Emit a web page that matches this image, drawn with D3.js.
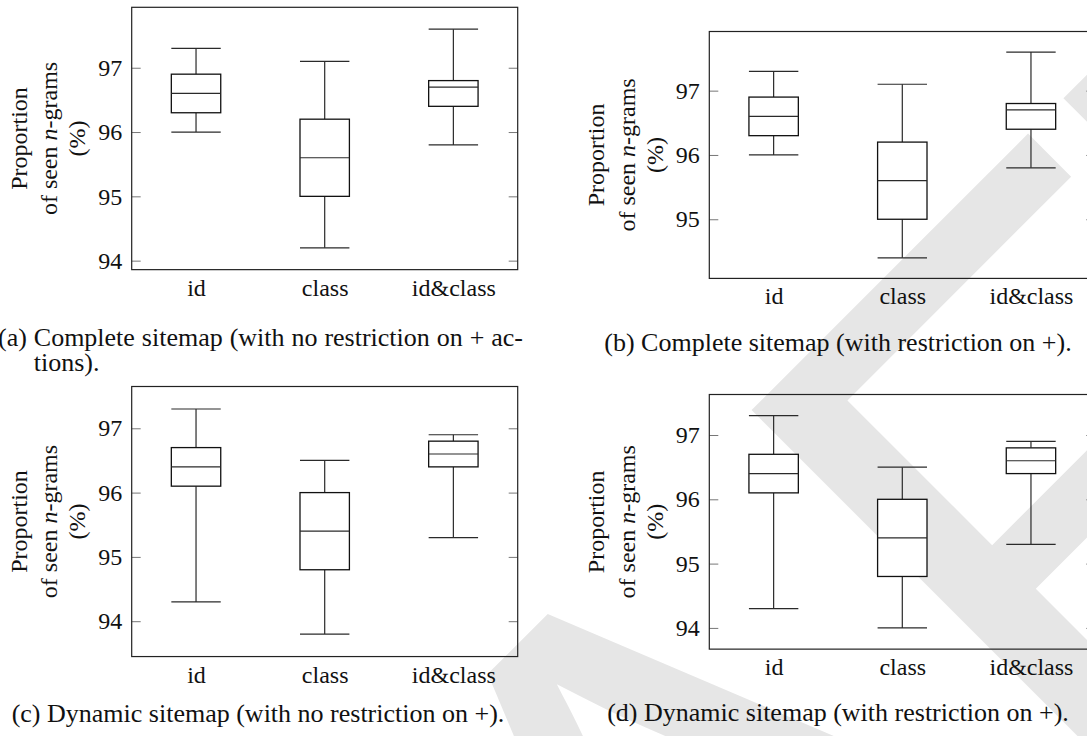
<!DOCTYPE html>
<html><head><meta charset="utf-8">
<script src="https://cdn.jsdelivr.net/npm/d3@7"></script>
<style>body{margin:0;background:#fff}svg{display:block}</style>
</head><body>
<script>
// ---------- data ----------
const categories = ["id", "class", "id&class"];
// (a) Complete sitemap, no restriction
const lowA  = [96.0, 94.2, 95.8];
const q1A   = [96.3, 95.0, 96.4];
const medA  = [96.6, 95.6, 96.7];
const q3A   = [96.9, 96.2, 96.8];
const highA = [97.3, 97.1, 97.6];
// (b) Complete sitemap, with restriction
const lowB  = [96.0, 94.4, 95.8];
const q1B   = [96.3, 95.0, 96.4];
const medB  = [96.6, 95.6, 96.7];
const q3B   = [96.9, 96.2, 96.8];
const highB = [97.3, 97.1, 97.6];
// (c) Dynamic sitemap, no restriction
const lowC  = [94.3, 93.8, 95.3];
const q1C   = [96.1, 94.8, 96.4];
const medC  = [96.4, 95.4, 96.6];
const q3C   = [96.7, 96.0, 96.8];
const highC = [97.3, 96.5, 96.9];
// (d) Dynamic sitemap, with restriction
const lowD  = [94.3, 94.0, 95.3];
const q1D   = [96.1, 94.8, 96.4];
const medD  = [96.4, 95.4, 96.6];
const q3D   = [96.7, 96.0, 96.8];
const highD = [97.3, 96.5, 96.9];

const captions = {
  a: ["(a) Complete sitemap (with no restriction on + ac-", "tions)."],
  b: ["(b) Complete sitemap (with restriction on +)."],
  c: ["(c) Dynamic sitemap (with no restriction on +)."],
  d: ["(d) Dynamic sitemap (with restriction on +)."]
};
const yLabelLines = ["Proportion", "of seen |n|-grams", "(%)"];
const watermarkText = "DRAFT";

// ---------- layout ----------
const W = 1087, H = 736;
const SERIF = "'Liberation Serif','Times New Roman',serif";
const UNIT = 64.3;        // px per 1 % on the y axis
const FRAME_W = 386;
const BOX_FRAC = 0.384;

const panels = [
  {key:"a", left:131.7, top:7.3,   low:lowA, q1:q1A, med:medA, q3:q3A, high:highA},
  {key:"b", left:709.3, top:31.5,  low:lowB, q1:q1B, med:medB, q3:q3B, high:highB},
  {key:"c", left:131.7, top:386.5, low:lowC, q1:q1C, med:medC, q3:q3C, high:highC},
  {key:"d", left:709.3, top:394.5, low:lowD, q1:q1D, med:medD, q3:q3D, high:highD}
];

const svg = d3.select("body").append("svg").attr("width", W).attr("height", H);

// watermark (behind everything)
svg.append("g")
  .attr("transform", "translate(-100,2040) rotate(-45)")
  .append("text")
  .attr("font-family", "'Liberation Sans',Arial,sans-serif")
  .attr("font-size", 800)
  .attr("fill", "#e6e6e6")
  .text(watermarkText);

panels.forEach(p => {
  const g = svg.append("g");
  const lo = d3.min(p.low), hi = d3.max(p.high);
  const pad = (hi - lo) * 0.1;
  const d0 = lo - pad, d1 = hi + pad;
  const bottom = p.top + (d1 - d0) * UNIT;
  const y = d3.scaleLinear().domain([d0, d1]).range([bottom, p.top]);
  const x = d3.scalePoint().domain(categories).range([p.left, p.left + FRAME_W]).padding(0.5);
  const bw = x.step() * BOX_FRAC;
  const ticks = d3.range(Math.ceil(d0), Math.floor(d1) + 1);

  // y axis left (inner ticks, labels)
  const ax = g.append("g").attr("transform", `translate(${p.left},0)`)
    .call(d3.axisLeft(y).tickValues(ticks).tickSize(-9).tickPadding(9.5).tickFormat(d3.format("d")));
  ax.select(".domain").remove();
  ax.selectAll("line").attr("stroke", "#777").attr("stroke-width", 1);
  ax.selectAll("text").attr("font-family", SERIF).attr("font-size", 24).attr("fill", "#111");

  // y axis right (inner ticks only)
  const axr = g.append("g").attr("transform", `translate(${p.left + FRAME_W},0)`)
    .call(d3.axisRight(y).tickValues(ticks).tickSize(-9).tickFormat(""));
  axr.select(".domain").remove();
  axr.selectAll("line").attr("stroke", "#777").attr("stroke-width", 1);

  // x axis labels
  const axb = g.append("g").attr("transform", `translate(0,${bottom})`)
    .call(d3.axisBottom(x).tickSize(0).tickPadding(9));
  axb.select(".domain").remove();
  axb.selectAll("text").attr("font-family", SERIF).attr("font-size", 24).attr("fill", "#111");

  // frame
  g.append("rect").attr("x", p.left).attr("y", p.top)
    .attr("width", FRAME_W).attr("height", bottom - p.top)
    .attr("fill", "none").attr("stroke", "#222").attr("stroke-width", 1.2);

  // boxes
  const rows = categories.map((c, i) => ({c, low:p.low[i], q1:p.q1[i], med:p.med[i], q3:p.q3[i], high:p.high[i]}));
  const bx = g.selectAll(".bx").data(rows).join("g");
  const ln = "#2a2a2a";
  bx.append("line").attr("x1", d => x(d.c)).attr("x2", d => x(d.c))
    .attr("y1", d => y(d.high)).attr("y2", d => y(d.q3)).attr("stroke", ln).attr("stroke-width", 1.2);
  bx.append("line").attr("x1", d => x(d.c)).attr("x2", d => x(d.c))
    .attr("y1", d => y(d.q1)).attr("y2", d => y(d.low)).attr("stroke", ln).attr("stroke-width", 1.2);
  bx.append("line").attr("x1", d => x(d.c) - bw/2).attr("x2", d => x(d.c) + bw/2)
    .attr("y1", d => y(d.high)).attr("y2", d => y(d.high)).attr("stroke", ln).attr("stroke-width", 1.2);
  bx.append("line").attr("x1", d => x(d.c) - bw/2).attr("x2", d => x(d.c) + bw/2)
    .attr("y1", d => y(d.low)).attr("y2", d => y(d.low)).attr("stroke", ln).attr("stroke-width", 1.2);
  bx.append("rect").attr("x", d => x(d.c) - bw/2).attr("width", bw)
    .attr("y", d => y(d.q3)).attr("height", d => y(d.q1) - y(d.q3))
    .attr("fill", "#fff").attr("stroke", "#111").attr("stroke-width", 1.3);
  bx.append("line").attr("x1", d => x(d.c) - bw/2).attr("x2", d => x(d.c) + bw/2)
    .attr("y1", d => y(d.med)).attr("y2", d => y(d.med)).attr("stroke", ln).attr("stroke-width", 1.2);

  // y label (3 rotated lines)
  const midY = (p.top + bottom) / 2;
  const offs = [-105, -74.7, -46.7];
  yLabelLines.forEach((line, i) => {
    const t = g.append("text")
      .attr("transform", `translate(${p.left + offs[i]},${midY}) rotate(-90)`)
      .attr("text-anchor", "middle").attr("font-family", SERIF).attr("font-size", 24).attr("fill", "#111");
    line.split("|").forEach((part, j) => {
      t.append("tspan").attr("font-style", j % 2 ? "italic" : "normal").text(part);
    });
  });
});

// captions
function caption(txt, x, y, anchor) {
  return svg.append("text").attr("x", x).attr("y", y).attr("text-anchor", anchor)
    .attr("font-family", SERIF).attr("font-size", 26).attr("fill", "#111").text(txt);
}
const ca = caption(captions.a[0], -2, 346, "start");
const natural = ca.node().getComputedTextLength();
const spaces = captions.a[0].split(" ").length - 1;
ca.attr("word-spacing", Math.max(0, (525 - natural) / spaces));
caption(captions.a[1], 33.7, 371, "start");
caption(captions.b[0], 838, 351, "middle");
caption(captions.c[0], 258, 722, "middle");
caption(captions.d[0], 838, 721, "middle");
</script>
</body></html>
